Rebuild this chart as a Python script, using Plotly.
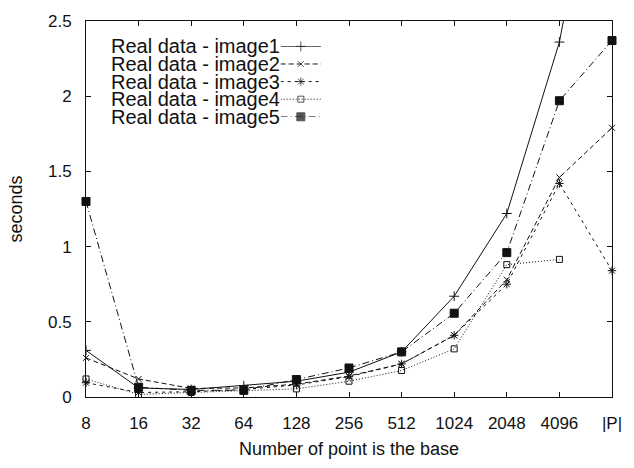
import plotly.graph_objects as go

categories = ['8', '16', '32', '64', '128', '256', '512', '1024', '2048', '4096', '|P|']
image1 = [0.31, 0.06, 0.05, 0.075, 0.105, 0.165, 0.30, 0.67, 1.22, 2.36, 4.2]
image2 = [0.26, 0.12, 0.057, 0.06, 0.085, 0.14, 0.22, 0.41, 0.78, 1.46, 1.79]
image3 = [0.095, 0.03, 0.035, 0.05, 0.08, 0.135, 0.22, 0.41, 0.75, 1.42, 0.84]
image4 = [0.12, 0.017, 0.03, 0.04, 0.054, 0.105, 0.176, 0.32, 0.88, 0.915, None]
image5 = [1.30, 0.065, 0.044, 0.045, 0.116, 0.193, 0.30, 0.557, 0.96, 1.97, 2.37]
series_names = ['Real data - image1', 'Real data - image2', 'Real data - image3',
                'Real data - image4', 'Real data - image5']
y_ticks = [0, 0.5, 1, 1.5, 2, 2.5]

FONT = 'Liberation Sans, Arial, sans-serif'
C = '#111111'
styles = [
    dict(dash='solid', symbol='cross-thin-open', size=7),
    dict(dash='5px,3px', symbol='x-thin-open', size=6),
    dict(dash='3px,4px', symbol='asterisk-open', size=7),
    dict(dash='1px,2px', symbol='square-open', size=6),
    dict(dash='7px,3px,1px,3px', symbol='square', size=8),
]
series = [image1, image2, image3, image4, image5]

fig = go.Figure()
for i, (vals, st) in enumerate(zip(series, styles)):
    fig.add_trace(go.Scatter(
        x=categories, y=vals, mode='lines+markers', name=series_names[i],
        line=dict(color=C, width=1, dash=st['dash']),
        marker=dict(symbol=st['symbol'], size=st['size'], color=C,
                    line=dict(color=C, width=1)),
        cliponaxis=(i == 0), showlegend=False,
    ))

# gnuplot-style key: text right-aligned, sample on the right (drawn in an auxiliary axis)
n = len(series_names)
for i, st in enumerate(styles):
    fig.add_trace(go.Scatter(
        x=[0, 0.5, 1], y=[i, i, i], xaxis='x2', yaxis='y2',
        mode='lines+markers', showlegend=False, hoverinfo='skip',
        line=dict(color=C, width=1, dash=st['dash']),
        marker=dict(symbol=st['symbol'], size=[0, st['size'], 0], color=C,
                    line=dict(color=C, width=1)),
        cliponaxis=False,
    ))

L, R, T, B = 86, 13, 19, 71
W, H = 634, 468
pw, ph = W - L - R, H - T - B
def px_x(p):
    return (p - L) / pw
def px_y(p):
    return (H - B - p) / ph

row_y0 = 44.5
row_dy = 17.7
key_x0, key_x1 = 284, 325
for i, nm in enumerate(series_names):
    fig.add_annotation(
        x=px_x(284), y=px_y(row_y0 + i * row_dy), xref='paper', yref='paper',
        text=nm, showarrow=False, xanchor='right', yanchor='middle',
        font=dict(family=FONT, size=20, color=C), borderpad=0)

fig.update_layout(
    width=W, height=H, margin=dict(l=L, r=R, t=T, b=B),
    plot_bgcolor='white', paper_bgcolor='white',
    font=dict(family=FONT, size=17, color=C),
    xaxis=dict(type='category', range=[0, len(categories) - 1],
               showline=True, linecolor=C, linewidth=1, mirror='ticks',
               ticks='inside', ticklen=5, tickcolor=C, showgrid=False, zeroline=False,
               tickfont=dict(size=17), ticklabelstandoff=11,
               title=dict(text='Number of point is the base', font=dict(size=18), standoff=9)),
    yaxis=dict(range=[0, 2.5], tickvals=y_ticks,
               showline=True, linecolor=C, linewidth=1, mirror='ticks',
               ticks='inside', ticklen=5, tickcolor=C, showgrid=False, zeroline=False,
               tickfont=dict(size=17), ticklabelstandoff=10,
               title=dict(text='seconds', font=dict(size=18), standoff=20)),
    xaxis2=dict(domain=[px_x(key_x0), px_x(key_x1)], range=[0, 1], anchor='y2',
                visible=False, fixedrange=True),
    yaxis2=dict(domain=[px_y(row_y0 + (n - 1) * row_dy), px_y(row_y0)],
                range=[n - 1, 0], anchor='x2', visible=False, fixedrange=True),
)

fig.write_html('out.html', config={'displayModeBar': False},
               post_script="document.body.style.margin='0';document.body.style.overflow='hidden';")
